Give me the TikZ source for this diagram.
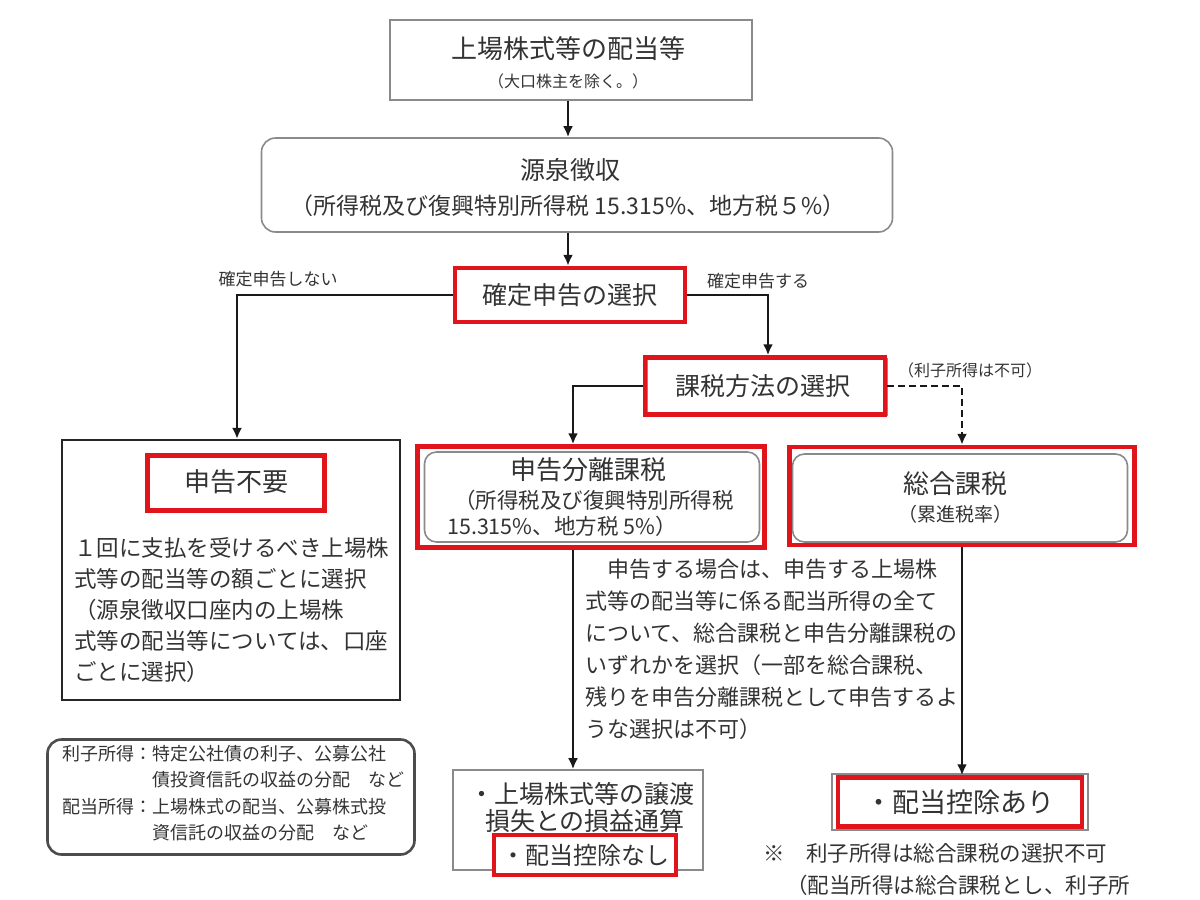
\documentclass[tikz,border=0pt]{standalone}
\usepackage{fontspec}
\newfontfamily\cjk{Noto Sans CJK JP}
\usetikzlibrary{arrows.meta}
\definecolor{tgray}{HTML}{333333}
\definecolor{bgray}{HTML}{8A8A8A}
\definecolor{redline}{HTML}{E0141B}
\newcommand{\fs}[2]{\fontsize{#1}{#2}\selectfont}
\begin{document}
\begin{tikzpicture}[x=1pt,y=-1pt,
  txt/.style={font=\cjk, text=tgray, inner sep=0pt},
  graybox/.style={draw=bgray, line width=1.6pt, fill=white, inner sep=0pt},
  redbox/.style={draw=redline, line width=4.5pt, inner sep=0pt},
  blackbox/.style={draw=black!85, line width=2.2pt, inner sep=0pt},
  arr/.style={-{Latex[length=11pt,width=10pt]}, line width=2.6pt, draw=black!90},
  darr/.style={-{Latex[length=11pt,width=10pt]}, line width=2.2pt, draw=black!90, dash pattern=on 7pt off 4pt},
]
\useasboundingbox (0,0) rectangle (1200,900);

% top box
\node[graybox, minimum width=362pt, minimum height=80pt] (top) at (571,60) {};
\node[txt, font=\cjk\fs{26}{30}] (topt) at (568,49) {上場株式等の配当等};
\node[txt, font=\cjk\fs{16}{20}] (tops) at (568,81) {（大口株主を除く。）};

% withholding
\node[graybox, rounded corners=14pt, minimum width=631pt, minimum height=94pt] (gensen) at (577,185) {};
\node[txt, font=\cjk\fs{25}{30}] (gent) at (570,170) {源泉徴収};
\node[txt, font=\cjk\fs{23}{28}] (gens) at (568,206) {（所得税及び復興特別所得税 15.315\%、地方税５\%）};

% kakutei
\node[redbox, fill=white, minimum width=230pt, minimum height=54pt] (kakutei) at (570,295) {};
\node[txt, font=\cjk\fs{25}{30}] (kakt) at (570,295) {確定申告の選択};
\node[txt, font=\cjk\fs{17}{20}] (lno) at (278,279) {確定申告しない};
\node[txt, font=\cjk\fs{17}{20}] (lyes) at (758,281) {確定申告する};

% kazei houhou
\node[graybox, minimum width=240pt, minimum height=57pt] (kazeish) at (767,387) {};
\node[redbox, minimum width=240pt, minimum height=57pt] (kazei) at (765,386) {};
\node[txt, font=\cjk\fs{25}{30}] (kazt) at (763,386) {課税方法の選択};
\node[txt, font=\cjk\fs{16}{20}] (rishi) at (970,370) {（利子所得は不可）};

% fuyou
\node[blackbox, minimum width=338pt, minimum height=260pt] (fuyou) at (231,570) {};
\node[redbox, minimum width=177pt, minimum height=55pt] (fuyour) at (236,483) {};
\node[txt, font=\cjk\fs{26}{30}] (fuyout) at (236,482) {申告不要};
\node[txt, font=\cjk\fs{22.5}{31}, anchor=north west, align=left] (fuyoub) at (74,537)
  {１回に支払を受けるべき上場株\\式等の配当等の額ごとに選択\\（源泉徴収口座内の上場株\\式等の配当等については、口座\\ごとに選択）};

% bunri
\node[graybox, rounded corners=12pt, minimum width=335pt, minimum height=90pt] (bunrish) at (592,497) {};
\node[redbox, minimum width=347pt, minimum height=101pt] (bunri) at (591,497) {};
\node[txt, font=\cjk\fs{26}{30}] (bunt) at (588,470) {申告分離課税};
\node[txt, font=\cjk\fs{21.5}{26}] (buns1) at (594,500) {（所得税及び復興特別所得税};
\node[txt, font=\cjk\fs{21.5}{26}, anchor=west] (buns2) at (447,526) {15.315\%、地方税 5\%）};

% sogo
\node[graybox, rounded corners=12pt, minimum width=335pt, minimum height=88pt] (sogosh) at (960,498) {};
\node[redbox, minimum width=345pt, minimum height=98pt] (sogo) at (962,496) {};
\node[txt, font=\cjk\fs{26}{30}] (sogot) at (955,484) {総合課税};
\node[txt, font=\cjk\fs{19}{22}] (sogos) at (955,514) {（累進税率）};

% paragraph
\node[txt, font=\cjk\fs{22}{32}, anchor=north west, align=left] (para) at (585,559)
  {　申告する場合は、申告する上場株\\式等の配当等に係る配当所得の全て\\について、総合課税と申告分離課税の\\いずれかを選択（一部を総合課税、\\残りを申告分離課税として申告するよ\\うな選択は不可）};

% legend
\node[draw=black!70, line width=2.6pt, rounded corners=14pt, minimum width=367pt, minimum height=115pt, inner sep=0pt] (legend) at (231,797) {};
\node[txt, font=\cjk\fs{18}{26.5}, anchor=north west, align=left] (legt) at (62,745)
  {利子所得：特定公社債の利子、公募公社\\　　　　　債投資信託の収益の分配　など\\配当所得：上場株式の配当、公募株式投\\　　　　　資信託の収益の分配　など};

% bottom middle
\node[graybox, minimum width=250pt, minimum height=100pt] (bottom) at (578,820) {};
\node[txt, font=\cjk\fs{25}{30}] (bott1) at (582,794) {・上場株式等の譲渡};
\node[txt, font=\cjk\fs{25}{30}] (bott2) at (585,821) {損失との損益通算};
\node[redbox, fill=white, minimum width=182pt, minimum height=40pt] (nashi) at (585,855) {};
\node[txt, font=\cjk\fs{24}{28}] (nashit) at (585,855) {・配当控除なし};

% bottom right
\node[graybox, minimum width=256pt, minimum height=56pt] (arish) at (960,802) {};
\node[redbox, minimum width=244pt, minimum height=49pt] (ari) at (960,802) {};
\node[txt, font=\cjk\fs{27}{30}] (arit) at (960,802) {・配当控除あり};
\node[txt, font=\cjk\fs{21.5}{26}, anchor=west] (note1) at (763,853) {※　利子所得は総合課税の選択不可};
\node[txt, font=\cjk\fs{21.5}{26}, anchor=west] (note2) at (786,885) {（配当所得は総合課税とし、利子所};

% connectors
\draw[arr] ([xshift=-3pt]top.south) -- ([xshift=-3pt]top.south |- gensen.north);
\draw[arr] ([xshift=-9pt]gensen.south) -- ([xshift=-9pt]gensen.south |- kakutei.north);
\draw[arr] (kakutei.west) -| ([xshift=6pt]fuyou.north);
\draw[arr] (kakutei.east) -| ([xshift=3pt]kazei.north);
\draw[arr] (kazei.west) -| ([xshift=-18pt]bunri.north);
\draw[darr] (kazei.east) -| (sogo.north);
\draw[arr] ([xshift=-18pt]bunri.south) -- ([xshift=-18pt]bunri.south |- bottom.north);
\draw[arr] (sogo.south) -- (sogo.south |- ari.north);
\end{tikzpicture}
\end{document}
